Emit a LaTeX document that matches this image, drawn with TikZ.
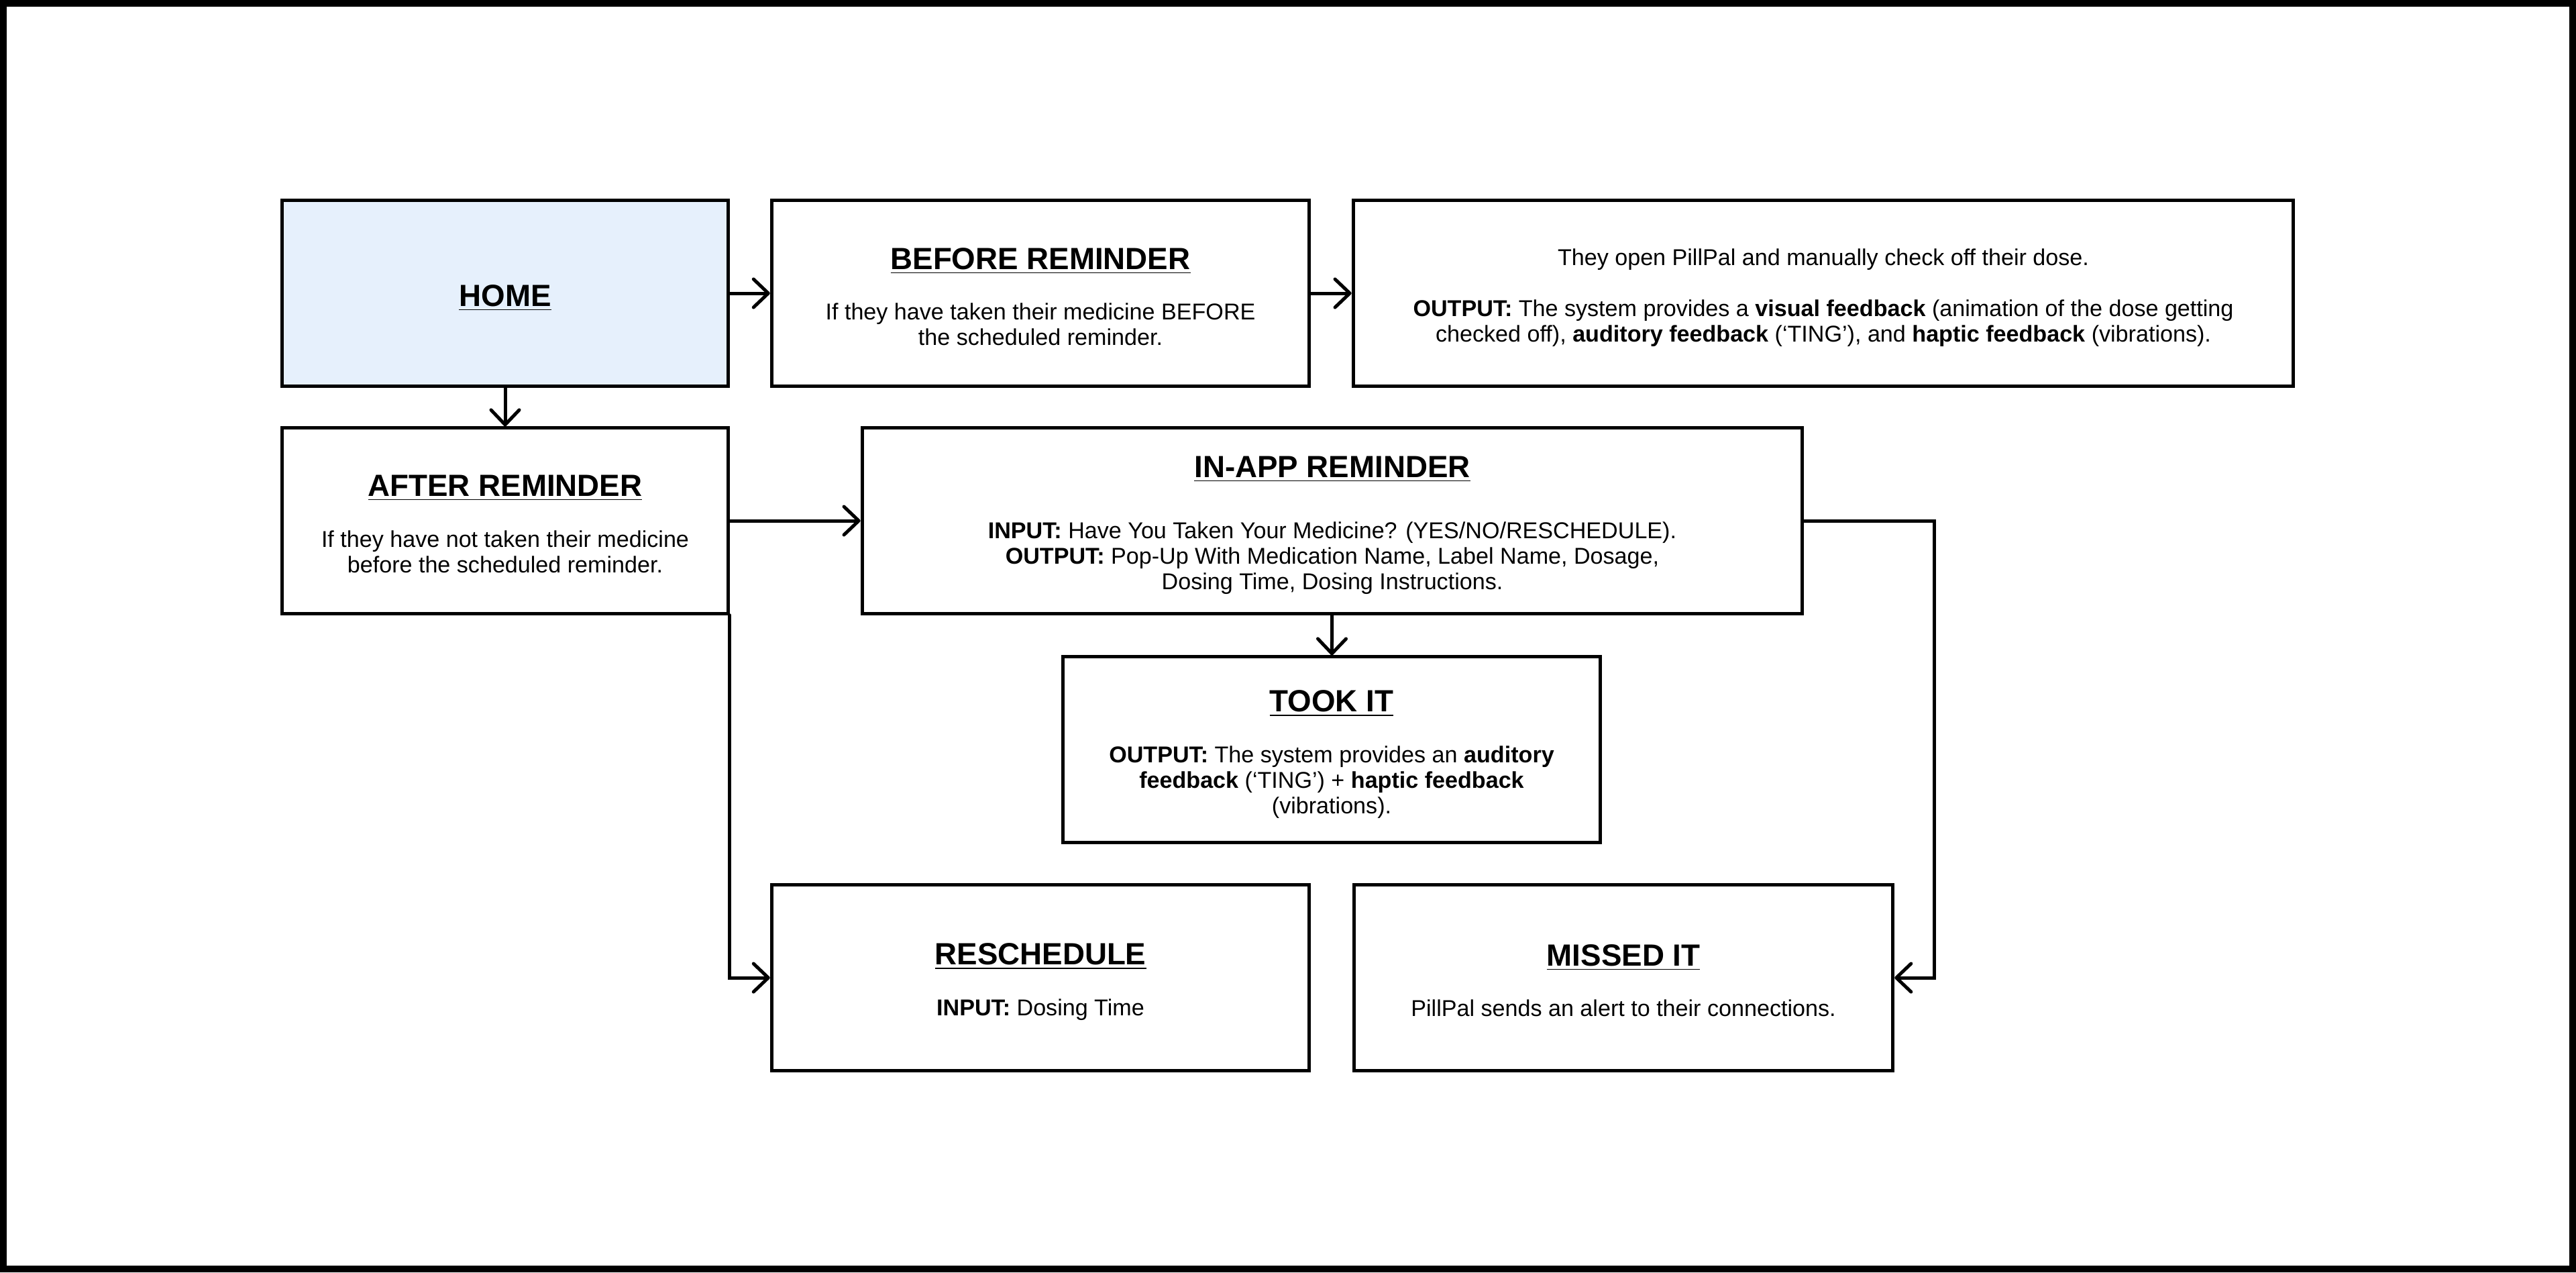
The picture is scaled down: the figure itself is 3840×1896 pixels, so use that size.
\documentclass[tikz,border=0pt]{standalone}
\usepackage{fontspec}
\setmainfont{Liberation Sans}
\usetikzlibrary{arrows.meta}
\definecolor{homefill}{RGB}{230,240,252}
\newcommand{\ttl}[1]{{\fontsize{13}{15}\selectfont\bfseries\underline{#1}}}
\tikzset{
  box/.style={draw=black, line width=0.05cm, fill=white, minimum height=2.76cm,
    inner sep=0pt},
  txt/.style={align=center, inner sep=0pt, font=\fontsize{9.7}{10.8}\selectfont},
  conn/.style={line width=0.05cm, line cap=round,
    -{Straight Barb[length=0.22cm,width=0.42cm,line width=0.05cm,round]}},
}
\begin{document}
\begin{tikzpicture}[x=0.01cm,y=-0.01cm]
\useasboundingbox (0,0) rectangle (3840,1896);
\draw[line width=0.1cm] (5,5) rectangle (3835,1891);

\node[box, fill=homefill, minimum width=6.64cm] (home) at (753,437) {};
\node[box, minimum width=8.01cm] (before) at (1551,437) {};
\node[box, minimum width=14.01cm] (manual) at (2718,437) {};
\node[box, minimum width=6.64cm] (after) at (753,776) {};
\node[box, minimum width=14.01cm] (inapp) at (1986,776) {};
\node[box, minimum width=8.00cm] (took) at (1985,1117) {};
\node[box, minimum width=8.01cm] (resched) at (1551,1457) {};
\node[box, minimum width=8.03cm] (missed) at (2420,1457) {};

\node[txt] (home-t) at ([yshift=-0.07cm]home.center) {\ttl{HOME}};
\node[txt] (before-t) at ([yshift=-0.05cm]before.center)
  {\ttl{BEFORE REMINDER}\\[10.7pt]
   If they have taken their medicine BEFORE\\
   the scheduled reminder.};
\node[txt] (manual-t) at ([yshift=-0.07cm]manual.center)
  {They open PillPal and manually check off their dose.\\[10.8pt]
   \textbf{OUTPUT:} The system provides a \textbf{visual feedback} (animation of the dose getting\\
   checked off), \textbf{auditory feedback} (`TING'), and \textbf{haptic feedback} (vibrations).};
\node[txt] (after-t) at ([yshift=-0.05cm]after.center)
  {\ttl{AFTER REMINDER}\\[10.7pt]
   If they have not taken their medicine\\
   before the scheduled reminder.};
\node[txt] (inapp-t) at ([yshift=-0.07cm]inapp.center)
  {\ttl{IN-APP REMINDER}\\[15pt]
   \textbf{INPUT:} Have You Taken Your Medicine? (YES/NO/RESCHEDULE).\\
   \textbf{OUTPUT:} Pop-Up With Medication Name, Label Name, Dosage,\\
   Dosing Time, Dosing Instructions.};
\node[txt] (took-t) at ([yshift=-0.07cm]took.center)
  {\ttl{TOOK IT}\\[10.7pt]
   \textbf{OUTPUT:} The system provides an \textbf{auditory}\\
   \textbf{feedback} (`TING') + \textbf{haptic feedback}\\
   (vibrations).};
\node[txt] (resched-t) at ([yshift=-0.06cm]resched.center)
  {\ttl{RESCHEDULE}\\[10.7pt]
   \textbf{INPUT:} Dosing Time};
\node[txt] (missed-t) at ([yshift=-0.04cm]missed.center)
  {\ttl{MISSED IT}\\[10.7pt]
   PillPal sends an alert to their connections.};

\coordinate (turn) at (2883,776);

\draw[conn] (home) -- (before);
\draw[conn] (before) -- (manual);
\draw[conn] (home) -- (after);
\draw[conn] (after.east) -- (inapp.west);
\draw[conn] (inapp) -- (took);
\draw[conn] (after.south east) |- (resched.west);
\draw[conn] (inapp.east) -- (turn) |- (missed.east);
\end{tikzpicture}
\end{document}
